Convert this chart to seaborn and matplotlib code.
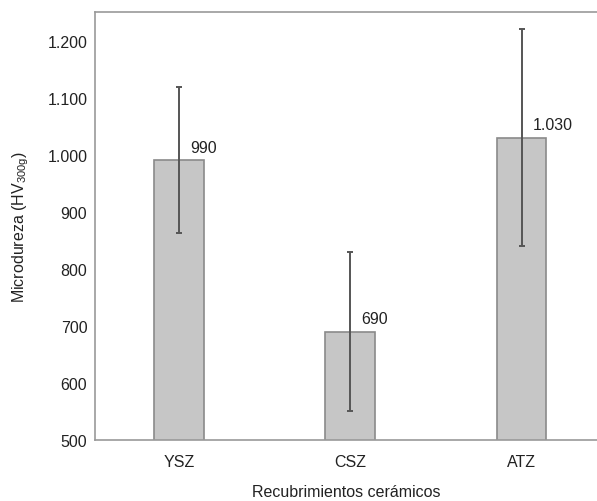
import matplotlib
matplotlib.use("Agg")
import matplotlib.pyplot as plt
import seaborn as sns

# Data
recubrimientos = ["YSZ", "CSZ", "ATZ"]
microdureza = [990, 690, 1030]
desviacion = [128, 140, 190]
etiquetas = ["990", "690", "1.030"]
yticks = [500, 600, 700, 800, 900, 1000, 1100, 1200]
ytick_labels = ["500", "600", "700", "800", "900", "1.000", "1.100", "1.200"]

sns.set_style("white")
plt.rcParams["font.family"] = ["Liberation Sans", "DejaVu Sans"]

fs = 11.5
fig = plt.figure(figsize=(5.97, 5.02), dpi=100)
ax = fig.add_axes([0.159, 0.1215, 0.841, 0.8525])

sns.barplot(x=recubrimientos, y=microdureza, ax=ax, width=0.29,
            color="#c6c6c6", edgecolor="#8a8a8a", linewidth=1.2,
            saturation=1, errorbar=None)
ax.errorbar(range(len(recubrimientos)), microdureza, yerr=desviacion,
            fmt="none", ecolor="#555555", elinewidth=1.4, capsize=2,
            capthick=1.4)

for i, (v, lab) in enumerate(zip(microdureza, etiquetas)):
    ax.text(i + 0.065, v + 10, lab, fontsize=fs, color="#222222",
            ha="left", va="bottom")

ax.set_ylim(500, 1250)
ax.set_xlim(-0.49, 2.44)
ax.set_yticks(yticks)
ax.set_yticklabels(ytick_labels)
ax.tick_params(axis="both", labelsize=fs, colors="#222222", length=2,
               color="#cccccc")
ax.tick_params(axis="x", pad=8)
ax.set_ylabel("Microdureza (HV$_{\\mathregular{300g}}$)", fontsize=fs,
              color="#222222", labelpad=12)
ax.set_xlabel("Recubrimientos cerámicos", fontsize=fs, color="#222222",
              labelpad=11)

for side in ["left", "top", "bottom"]:
    ax.spines[side].set_color("#999999")
    ax.spines[side].set_linewidth(1.2)
ax.spines["right"].set_visible(False)

fig.savefig("out.png", dpi=100)
